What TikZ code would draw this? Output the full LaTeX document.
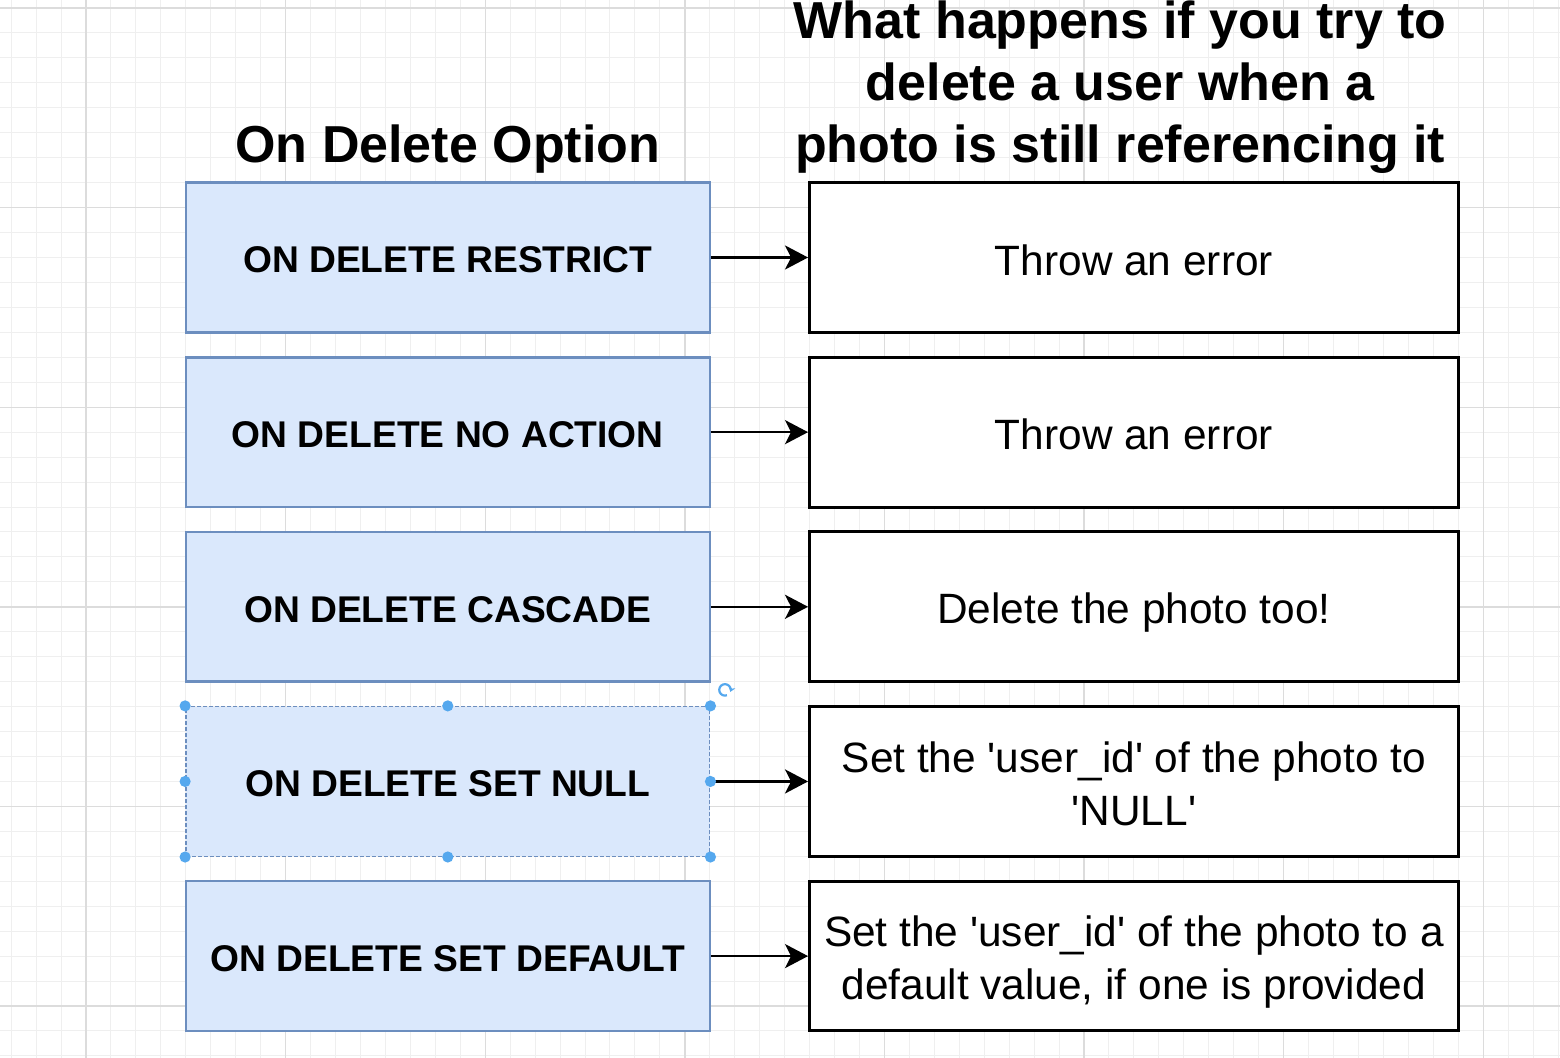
\documentclass[tikz,border=0pt]{standalone}
\usepackage{fontspec}
\setmainfont{Liberation Sans}[Ligatures=TeXOff]
\usetikzlibrary{arrows.meta}
\definecolor{fillblue}{HTML}{DAE8FC}
\definecolor{lineblue}{HTML}{6C8EBF}
\definecolor{gridminor}{HTML}{EFEFEF}
\definecolor{gridmajor}{HTML}{DCDCDC}
\definecolor{handleblue}{HTML}{55A8EE}
\newcommand{\mystrut}{\rule[-0.18em]{0pt}{1.19em}}
\begin{document}
\begin{tikzpicture}[x=12.475pt, y=-12.475pt,
  leftbox/.style={draw=lineblue, fill=fillblue, line width=1.2pt, inner sep=0pt,
    minimum width=261.975pt, minimum height=74.85pt,
    font=\fontsize{18.6}{22.3}\selectfont\bfseries},
  selbox/.style={draw=lineblue, dash pattern=on 2pt off 1pt, line width=0.7pt},
  rightbox/.style={draw=black, fill=white, line width=1.5pt, inner sep=0pt,
    minimum width=324.35pt, minimum height=74.85pt, align=center,
    font=\fontsize{21.2}{25.4}\selectfont},
  titletext/.style={inner sep=0pt, align=center, font=\fontsize{26}{31.2}\selectfont\bfseries},
  arr/.style={line width=1.3pt, -{Stealth[length=11.5pt, width=12pt, inset=3pt]}},
  handle/.style={fill=handleblue}
]
\useasboundingbox (-3.447,-0.3206) rectangle (59.078,42.084);
\fill[white] (-3.447,-0.3206) rectangle (59.078,42.084);
% grid
\foreach \i in {-3,...,59} \draw[gridminor, line width=0.5pt] (\i,-0.33) -- (\i,42.1);
\foreach \j in {0,...,42} \draw[gridminor, line width=0.5pt] (-3.45,\j) -- (59.08,\j);
\foreach \i in {0,8,...,56} \draw[gridmajor, line width=0.7pt] (\i,-0.33) -- (\i,42.1);
\foreach \j in {0,8,...,40} \draw[gridmajor, line width=0.7pt] (-3.45,\j) -- (59.08,\j);

% titles
\node[titletext, anchor=base] (t1) at (14.5,6.21) {On Delete Option};
\node[titletext, anchor=base] (t2) at (41.45,6.21) {What happens if you try to\\delete a user when a\\photo is still referencing it};

% left boxes
\node[leftbox] (l1) at (14.5,10) {\mystrut ON DELETE RESTRICT};
\node[leftbox] (l2) at (14.5,17) {\mystrut ON DELETE NO ACTION};
\node[leftbox] (l3) at (14.5,24) {\mystrut ON DELETE CASCADE};
\node[leftbox, selbox] (l4) at (14.5,31) {\mystrut ON DELETE SET NULL};
\node[leftbox] (l5) at (14.5,38) {\mystrut ON DELETE SET DEFAULT};

% right boxes
\node[rightbox] (r1) at (42,10) {\mystrut Throw an error};
\node[rightbox] (r2) at (42,17) {\mystrut Throw an error};
\node[rightbox] (r3) at (42,24) {\mystrut Delete the photo too!};
\node[rightbox] (r4) at (42,31) {\mystrut Set the 'user\_id' of the photo to\\\mystrut 'NULL'};
\node[rightbox] (r5) at (42,38) {\mystrut Set the 'user\_id' of the photo to a\\\mystrut default value, if one is provided};

% connectors
\draw[arr] (l1) -- (r1);
\draw[arr] (l2) -- (r2);
\draw[arr] (l3) -- (r3);
\draw[arr] (l4) -- (r4);
\draw[arr] (l5) -- (r5);

% selection handles
\foreach \p in {north west, north, north east, west, east, south west, south, south east}
  \fill[handle] (l4.\p) circle (2.8pt);
\coordinate (rot) at (25.61,27.33);
\draw[handleblue, line width=1.1pt, -{Stealth[length=2.5pt, width=3.5pt]}]
  ([shift={(70:0.23)}]rot) arc[start angle=70, end angle=380, radius=0.23];
\end{tikzpicture}
\end{document}
